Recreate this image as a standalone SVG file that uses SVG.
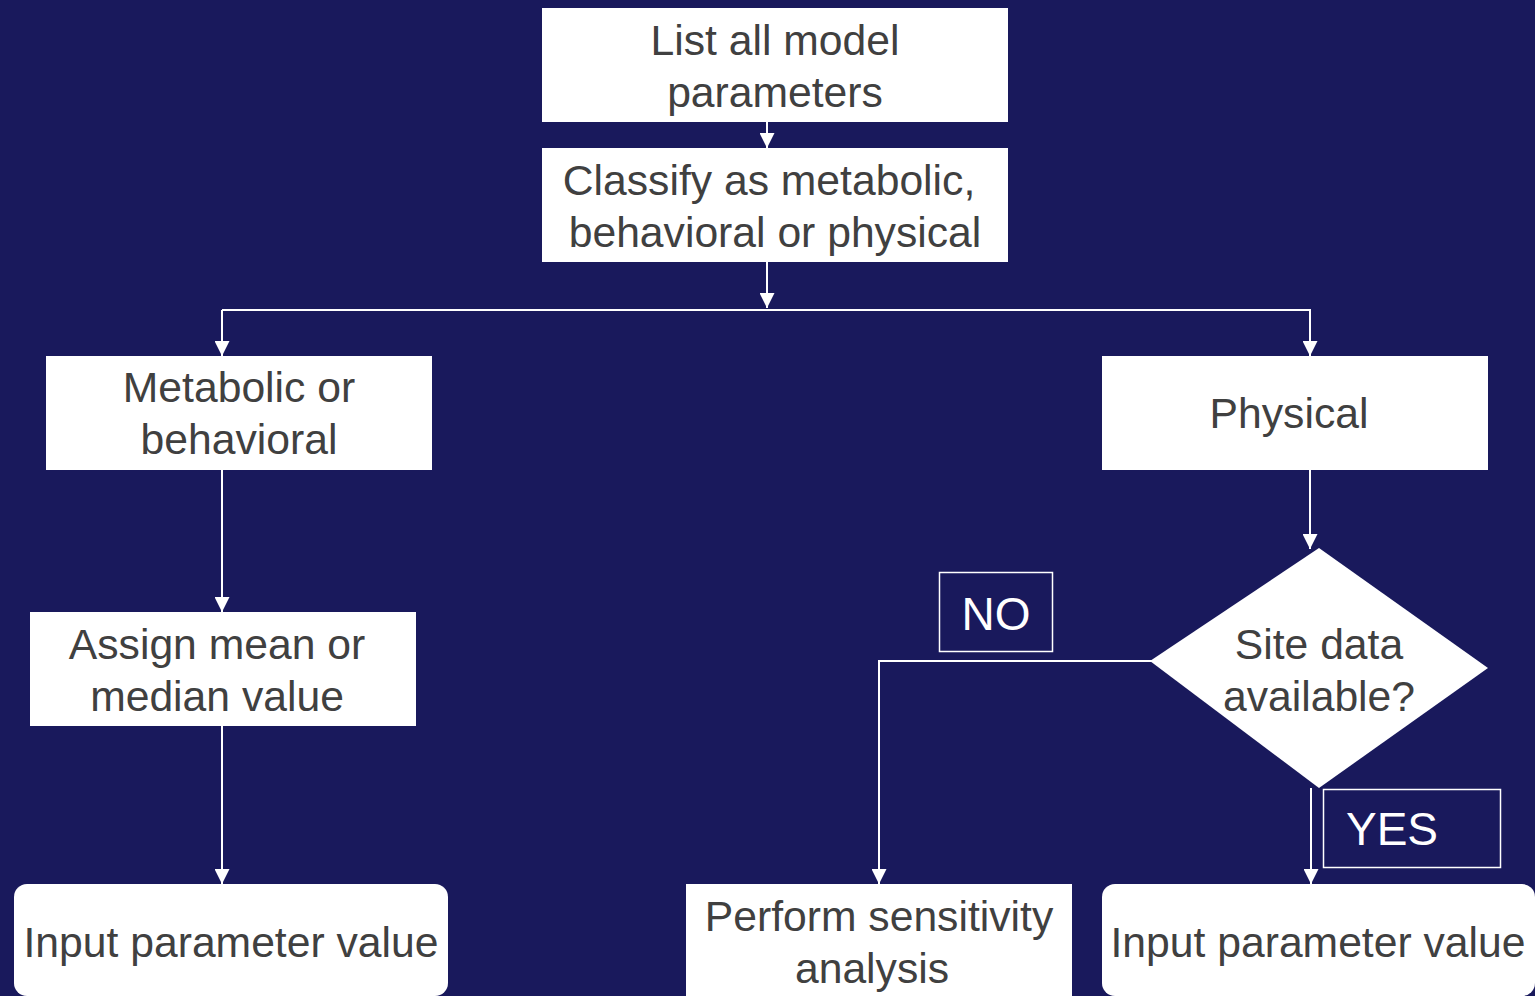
<svg xmlns="http://www.w3.org/2000/svg" width="1535" height="996" viewBox="0 0 1535 996">
<defs>
<style>
.box{fill:#ffffff;}
.t{font-family:"Liberation Sans",Arial,sans-serif;font-size:42.67px;fill:#404040;text-anchor:middle;}
.lbl{font-family:"Liberation Sans",Arial,sans-serif;font-size:46px;fill:#ffffff;text-anchor:middle;}
.lb{fill:none;stroke:#ffffff;stroke-width:1.5;}
.c{fill:none;stroke:#ffffff;stroke-width:2;}
</style>
<marker id="ah" markerWidth="15" markerHeight="15" viewBox="0 0 15 15" refX="15" refY="7.5" orient="auto" markerUnits="userSpaceOnUse">
<path d="M0,0 L15,7.5 L0,15 Z" fill="#ffffff"/>
</marker>
</defs>
<rect x="0" y="0" width="1535" height="996" fill="#19195C"/>
<g id="connectors">
<line class="c" x1="767" y1="122" x2="767" y2="148" marker-end="url(#ah)"/>
<line class="c" x1="767" y1="262" x2="767" y2="308" marker-end="url(#ah)"/>
<polyline class="c" points="222,310 1310,310 1310,356" marker-end="url(#ah)"/>
<line class="c" x1="222" y1="310" x2="222" y2="356" marker-end="url(#ah)"/>
<line class="c" x1="222" y1="470" x2="222" y2="612" marker-end="url(#ah)"/>
<line class="c" x1="222" y1="726" x2="222" y2="884" marker-end="url(#ah)"/>
<line class="c" x1="1310" y1="470" x2="1310" y2="549" marker-end="url(#ah)"/>
<polyline class="c" points="1152,661 879,661 879,884" marker-end="url(#ah)"/>
<line class="c" x1="1311" y1="788" x2="1311" y2="884" marker-end="url(#ah)"/>
</g>
<g id="n1"><rect class="box" x="542" y="8" width="466" height="114"/><text class="t" x="775" y="55">List all model</text><text class="t" x="775" y="107">parameters</text></g>
<g id="n2"><rect class="box" x="542" y="148" width="466" height="114"/><text class="t" x="769" y="195">Classify as metabolic,</text><text class="t" x="775" y="247">behavioral or physical</text></g>
<g id="n3"><rect class="box" x="46" y="356" width="386" height="114"/><text class="t" x="239" y="402">Metabolic or</text><text class="t" x="239" y="454">behavioral</text></g>
<g id="n4"><rect class="box" x="1102" y="356" width="386" height="114"/><text class="t" x="1289" y="428">Physical</text></g>
<g id="n5"><rect class="box" x="30" y="612" width="386" height="114"/><text class="t" x="217" y="659">Assign mean or</text><text class="t" x="217" y="711">median value</text></g>
<g id="n6"><rect class="box" x="14" y="884" width="434" height="112" rx="13"/><text class="t" x="231" y="957">Input parameter value</text></g>
<g id="n7"><polygon class="box" points="1319,548 1488,668 1319,788 1150,661"/><text class="t" x="1319" y="659">Site data</text><text class="t" x="1319" y="711">available?</text></g>
<g id="n8"><rect class="box" x="686" y="884" width="386" height="130"/><text class="t" x="879" y="931">Perform sensitivity</text><text class="t" x="872" y="983">analysis</text></g>
<g id="n9"><rect class="box" x="1102" y="884" width="433" height="112" rx="13"/><text class="t" x="1318" y="957">Input parameter value</text></g>
<g id="no"><rect class="lb" x="939.5" y="572.5" width="113" height="79"/><text class="lbl" x="996" y="630">NO</text></g>
<g id="yes"><rect class="lb" x="1323.5" y="789.5" width="177" height="78"/><text class="lbl" x="1392" y="845">YES</text></g>
</svg>
